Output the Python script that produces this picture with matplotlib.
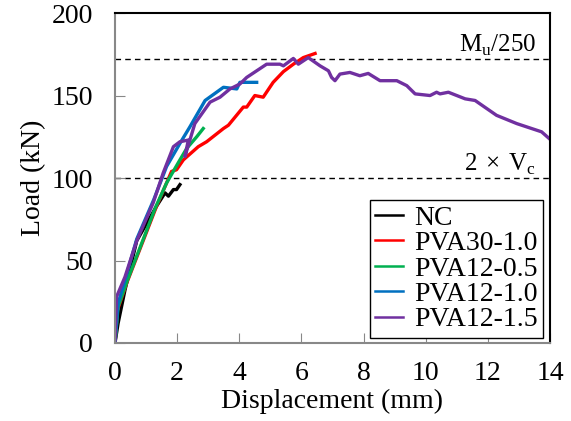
import matplotlib
matplotlib.use("Agg")
import matplotlib.pyplot as plt

plt.rcParams['font.family'] = ['Liberation Serif', 'DejaVu Serif']
plt.rcParams['mathtext.fontset'] = 'custom'
plt.rcParams['mathtext.rm'] = 'Liberation Serif'

# ---- data (displacement mm, load kN) ----
nc_x = [0, 0.1, 0.21, 0.32, 0.7, 1.34, 1.61, 1.72, 1.88, 1.98, 2.09]
nc_y = [0, 12, 22, 32, 62, 83, 91, 89, 93, 93, 96]

pva30_x = [0, 0.08, 0.37, 1.34, 1.82, 1.98, 2.2, 2.68, 2.95, 3.49, 3.65, 4.13, 4.24, 4.5, 4.77,
           5.09, 5.42, 5.74, 6.06, 6.44]
pva30_y = [0, 20, 36, 83, 104, 105, 111, 119, 122, 130, 132, 143, 143, 150, 149,
           158, 164.5, 169, 173, 175.5]

pva12_05_x = [0, 0.1, 0.4, 1.3, 1.66, 2.09, 2.31, 2.63, 2.84]
pva12_05_y = [0, 22, 38, 82, 97, 111, 118, 125, 130]

pva12_10_x = [0, 0.1, 0.35, 0.7, 1.25, 1.66, 2.09, 2.41, 2.9, 3.49, 3.92, 4.02, 4.56]
pva12_10_y = [0, 24, 40, 63, 87, 107, 121, 131, 147, 155, 154, 158, 158]

pva12_15_x = [0, 0.05, 0.32, 0.7, 1.23, 1.55, 1.88, 2.09, 2.36, 2.25, 2.57, 3.06, 3.38, 3.7,
              4.02, 4.24, 4.88, 5.31, 5.42, 5.74, 5.9, 6.22, 6.6, 6.87, 6.97, 7.08, 7.24,
              7.56, 7.88, 8.15, 8.53, 9.07, 9.39, 9.66, 10.14, 10.35, 10.46, 10.73, 11.27,
              11.59, 12.28, 12.93, 13.73, 14.0]
pva12_15_y = [0, 28, 40, 62, 85, 103, 119, 122, 123, 113, 133, 146, 149, 154,
              157, 161, 169, 169, 168, 172.5, 169, 173, 168, 165, 161, 159, 163,
              164, 162, 163.4, 159, 159, 156, 151, 150, 152, 151, 152, 148,
              147, 138, 133, 128, 123.5]

labels = ['NC', 'PVA30-1.0', 'PVA12-0.5', 'PVA12-1.0', 'PVA12-1.5']
colors = ['black', '#FF0000', '#00B050', '#0070C0', '#7030A0']

mu_line = 172
vc_line = 100

fig = plt.figure(figsize=(5.71, 4.21), dpi=100)
ax = fig.add_axes([0.2014, 0.1853, 0.7618, 0.7837])

series = [(nc_x, nc_y), (pva30_x, pva30_y), (pva12_05_x, pva12_05_y),
          (pva12_10_x, pva12_10_y), (pva12_15_x, pva12_15_y)]
for (xs, ys), lab, col in zip(series, labels, colors):
    ax.plot(xs, ys, color=col, lw=2.4, label=lab, solid_joinstyle='round')

ax.axhline(mu_line, color='black', lw=1, ls=(0, (4, 3)), zorder=0)
ax.axhline(vc_line, color='black', lw=1, ls=(0, (4, 3)), zorder=0)
ax.text(13.55, mu_line + 0.5, r'M$_\mathregular{u}$/250', ha='right', va='bottom', fontsize=18)
ax.text(13.55, vc_line + 0.5, r'2$\,\times\,$V$_\mathregular{c}$', ha='right', va='bottom', fontsize=18)

ax.set_xlim(0, 14)
ax.set_ylim(0, 200)
ax.set_xticks(range(0, 15, 2))
ax.set_yticks(range(0, 201, 50))
ax.tick_params(direction='in', length=7, color='#888888', labelsize=20)
ax.tick_params(axis='x', pad=13)
ax.tick_params(axis='y', pad=16)
ax.set_xlabel('Displacement (mm)', fontsize=20, labelpad=2)
ax.set_ylabel('Load (kN)', fontsize=20, labelpad=4)
for s in ['left', 'bottom']:
    ax.spines[s].set_color('#888888')
    ax.spines[s].set_linewidth(1.5)
for s in ['top', 'right']:
    ax.spines[s].set_color('black')
    ax.spines[s].set_linewidth(1.5)

leg = ax.legend(handles=[plt.Line2D([], [], color=c, lw=1.8) for c in colors], labels=labels,
                loc='lower right', bbox_to_anchor=(0.985, 0.015), fontsize=20,
                frameon=True, fancybox=False, edgecolor='black', framealpha=1,
                handlelength=1.0, handletextpad=0.4, borderpad=0.2, labelspacing=0.0,
                borderaxespad=0)
leg.get_frame().set_linewidth(1)

fig.savefig('out.png', dpi=100)
